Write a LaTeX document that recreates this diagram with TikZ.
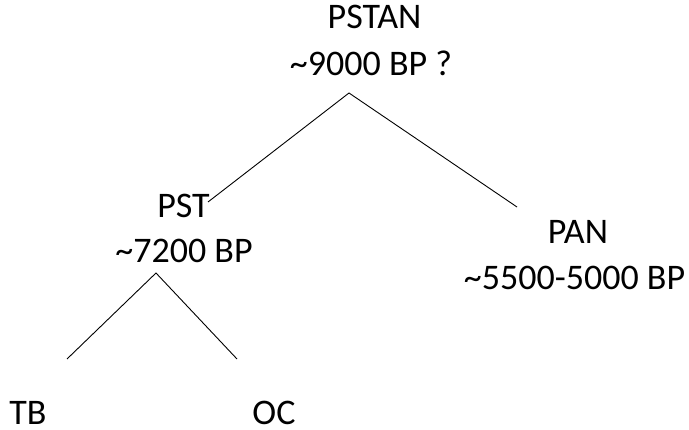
\documentclass[tikz,border=0pt]{standalone}
\usepackage{fontspec}
\setmainfont{Carlito}
\begin{document}
\begin{tikzpicture}[x=1pt,y=-1pt,
  lbl/.style={anchor=base,inner sep=0pt,font=\fontsize{36}{43}\selectfont},
  edge/.style={line width=0.9pt,black}]
\useasboundingbox (0,0) rectangle (689,430);
\node[lbl] (pstanA) at (374.5,29) {PSTAN};
\node[lbl] (pstanB) at (371,76) {\char`\~9000 BP ?};
\node[lbl] (pstA) at (183.5,218) {PST};
\node[lbl] (pstB) at (184,263) {\char`\~7200 BP};
\node[lbl] (panA) at (578,244) {PAN};
\node[lbl] (panB) at (574.5,290) {\char`\~5500-5000 BP};
\node[lbl] (tb) at (28,425) {TB};
\node[lbl] (oc) at (274,425) {OC};
\coordinate (top) at (349,93);
\coordinate (topL) at (208,202);
\coordinate (topR) at (517,207);
\coordinate (mid) at (156,273);
\coordinate (midL) at (67,359);
\coordinate (midR) at (237,359);
\draw[edge] (topL) -- (top) -- (topR);
\draw[edge] (midL) -- (mid) -- (midR);
\end{tikzpicture}
\end{document}
